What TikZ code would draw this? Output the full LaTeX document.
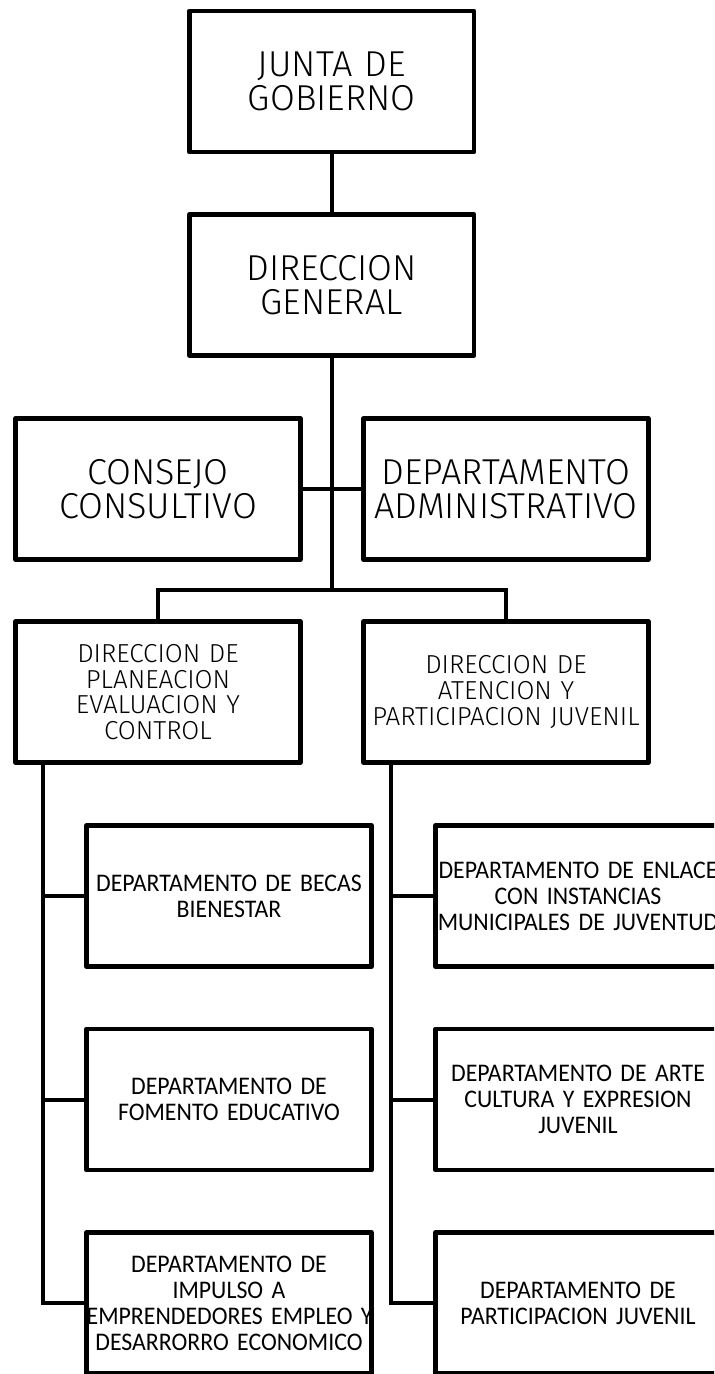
\documentclass[tikz,border=0pt]{standalone}
\usepackage{fontspec}
\setmainfont{Carlito}[FakeStretch=0.94]
\newfontfamily\dinfont{Fira Sans Light}
\hyphenpenalty=10000
\exhyphenpenalty=10000
\tikzset{
  orgbox/.style={draw=black, line width=3.4pt, line join=round, inner sep=0pt,
    text width=213.5pt, minimum height=105.75pt, align=center},
  bigtext/.style={font=\dinfont\fontsize{27}{26}\selectfont},
  midtext/.style={font=\dinfont\fontsize{19.5}{19.3}\selectfont},
  depttext/.style={font=\fontsize{19}{19.5}\selectfont},
  link/.style={draw=black, line width=3pt}
}
\begin{document}
\begin{tikzpicture}[x=0.75pt,y=-0.75pt]
        \useasboundingbox (0,0) rectangle (714,1374);
        \clip (0,0) rectangle (714,1374);

        \node[orgbox,bigtext] (jg) at (331.7,81.5) {JUNTA DE\\GOBIERNO};
        \node[orgbox,bigtext] (dg) at (331.7,285) {DIRECCION\\GENERAL};
        \node[orgbox,bigtext] (cc) at (158,489) {CONSEJO\\CONSULTIVO};
        \node[orgbox,bigtext] (da) at (506,489) {DEPARTAMENTO\\ADMINISTRATIVO};
        \node[orgbox,midtext] (dpec) at (158,692) {DIRECCION DE\\PLANEACION\\EVALUACION Y\\CONTROL};
        \node[orgbox,midtext] (dapj) at (506,692) {DIRECCION DE\\ATENCION Y\\PARTICIPACION~JUVENIL};

        % departamentos
        \node[orgbox,depttext] (dbb) at (229,896) {DEPARTAMENTO~DE~BECAS\\BIENESTAR};
        \node[orgbox,depttext] (dfe) at (229,1099.5) {DEPARTAMENTO DE\\FOMENTO EDUCATIVO};
        \node[orgbox,depttext] (die) at (229,1303) {DEPARTAMENTO DE\\IMPULSO A\\EMPRENDEDORES~EMPLEO~Y\\DESARRORRO~ECONOMICO};
        \node[orgbox,depttext] (del) at (578,896) {DEPARTAMENTO~DE~ENLACE\\CON INSTANCIAS\\MUNICIPALES~DE~JUVENTUD};
        \node[orgbox,depttext] (dac) at (578,1099.5) {DEPARTAMENTO~DE~ARTE\\CULTURA~Y~EXPRESION\\JUVENIL};
        \node[orgbox,depttext] (dpj) at (578,1303) {DEPARTAMENTO DE\\PARTICIPACION~JUVENIL};

        \coordinate (bar) at (331.7,590);
        \coordinate (lsp) at (43,0);
        \coordinate (rsp) at (391,0);

        \draw[link] (jg) -- (dg);
        \draw[link] (dg.south) -- (bar);
        \draw[link] (cc.east) -- (da.west);
        \draw[link] (dpec.north) |- (bar) -| (dapj.north);

        \draw[link] (dpec.south -| lsp) |- (die.west);
        \foreach \d in {dbb,dfe} {
            \draw[link] (\d.west) -- (\d.west -| lsp);
        }
        \draw[link] (dapj.south -| rsp) |- (dpj.west);
        \foreach \d in {del,dac} {
            \draw[link] (\d.west) -- (\d.west -| rsp);
        }
\end{tikzpicture}
\end{document}
